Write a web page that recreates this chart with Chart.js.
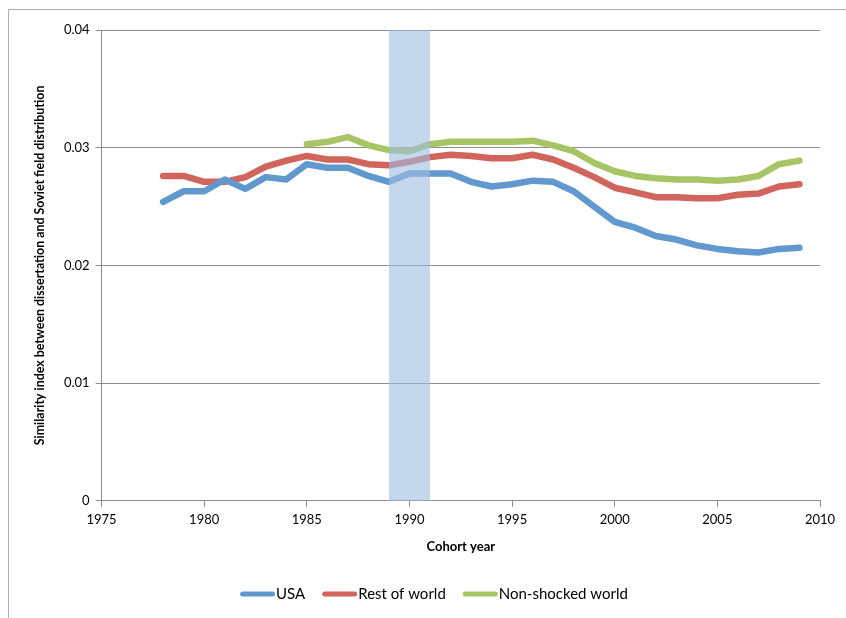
<!DOCTYPE html>
<html><head><meta charset="utf-8">
<script src="https://cdn.jsdelivr.net/npm/chart.js@4/dist/chart.umd.min.js"></script>
<style>html,body{margin:0;padding:0;background:#fff}#wrap{width:846px;height:618px;position:relative}</style>
</head><body><div id="wrap"><canvas id="c" width="846" height="618"></canvas></div>
<script>
const years = [1978,1979,1980,1981,1982,1983,1984,1985,1986,1987,1988,1989,1990,1991,1992,1993,1994,1995,1996,1997,1998,1999,2000,2001,2002,2003,2004,2005,2006,2007,2008,2009];
const usa = [0.0254,0.0263,0.0263,0.0273,0.0265,0.0275,0.0273,0.0286,0.0283,0.0283,0.0276,0.0271,0.0278,0.0278,0.0278,0.0271,0.0267,0.0269,0.0272,0.0271,0.0263,0.0250,0.0237,0.0232,0.0225,0.0222,0.0217,0.0214,0.0212,0.0211,0.0214,0.0215];
const restOfWorld = [0.0276,0.0276,0.0271,0.0271,0.0275,0.0284,0.0289,0.0293,0.0290,0.0290,0.0286,0.0285,0.0288,0.0292,0.0294,0.0293,0.0291,0.0291,0.0294,0.0290,0.0283,0.0275,0.0266,0.0262,0.0258,0.0258,0.0257,0.0257,0.0260,0.0261,0.0267,0.0269];
const nonShocked = [null,null,null,null,null,null,null,0.0303,0.0305,0.0309,0.0302,0.0298,0.0297,0.0303,0.0305,0.0305,0.0305,0.0305,0.0306,0.0302,0.0297,0.0287,0.0280,0.0276,0.0274,0.0273,0.0273,0.0272,0.0273,0.0276,0.0286,0.0289];
const seriesNames = ['USA','Rest of world','Non-shocked world'];
const shockBand = [1989, 1991];
const xTicks = [1975,1980,1985,1990,1995,2000,2005,2010];
const yTicks = [0,0.01,0.02,0.03,0.04];
const yTickLabels = ['0','0.01','0.02','0.03','0.04'];

const FONT = 'Lato, "Open Sans", sans-serif';
const colors = ['#6198CE','#D1645D','#A8C566'];

const toPts = arr => years.map((y,i)=>({x:y,y:arr[i]}));

const bandPlugin = {
  id:'band',
  afterDatasetsDraw(chart){
    const {ctx, chartArea, scales:{x}} = chart;
    const x0 = x.getPixelForValue(shockBand[0]), x1 = x.getPixelForValue(shockBand[1]);
    ctx.save();
    ctx.fillStyle = 'rgba(158,188,223,0.6)';
    ctx.fillRect(x0, chartArea.top, x1-x0, chartArea.bottom-chartArea.top);
    ctx.restore();
  }
};
const frameLegendPlugin = {
  id:'frameLegend',
  afterDraw(chart){
    const ctx = chart.ctx;
    ctx.save();
    ctx.strokeStyle = '#AFAFAF'; ctx.lineWidth = 1;
    ctx.beginPath(); ctx.moveTo(8.5, 618); ctx.lineTo(8.5, 9.5); ctx.lineTo(846, 9.5); ctx.stroke();
    // legend
    ctx.font = '15px ' + FONT;
    ctx.textBaseline = 'middle'; ctx.textAlign = 'left';
    const markerW = 35, gapText = 1, gapItem = 17, cy = 594;
    const items = chart.data.datasets.map(d=>({text:d.label, color:d.borderColor, w:ctx.measureText(d.label).width}));
    let total = items.reduce((s,it)=>s+markerW+gapText+it.w,0) + gapItem*(items.length-1);
    let x = 434 - total/2;
    items.forEach(it=>{
      ctx.strokeStyle = it.color; ctx.lineWidth = 5; ctx.lineCap = 'round';
      ctx.beginPath(); ctx.moveTo(x+2.5, cy); ctx.lineTo(x+markerW-2.5, cy); ctx.stroke();
      ctx.fillStyle = '#000';
      ctx.fillText(it.text, x+markerW+gapText, cy);
      x += markerW + gapText + it.w + gapItem;
    });
    ctx.restore();
  }
};

const ds = [usa, restOfWorld, nonShocked].map((arr,i)=>({
  label: seriesNames[i], data: toPts(arr), borderColor: colors[i], backgroundColor: colors[i],
  borderWidth: 6.5, pointRadius: 0, borderCapStyle:'round', borderJoinStyle:'round', tension:0, spanGaps:false
}));

new Chart(document.getElementById('c'), {
  type:'line',
  data:{datasets: ds},
  plugins:[bandPlugin, frameLegendPlugin],
  options:{
    responsive:false, animation:false, devicePixelRatio:1,
    layout:{padding:{left:29, right:26, top:30, bottom:59}},
    plugins:{ tooltip:{enabled:false}, legend:{display:false} },
    scales:{
      x:{type:'linear', min:1975, max:2010,
        afterBuildTicks(s){ s.ticks = xTicks.map(v=>({value:v})); },
        ticks:{font:{family:FONT,size:13}, color:'#000', padding:5, callback:v=>String(v), maxRotation:0},
        grid:{drawOnChartArea:false, drawTicks:true, tickLength:6, color:'#8C8C8C'},
        border:{color:'#8C8C8C', width:1},
        title:{display:true, text:'Cohort year', font:{family:FONT,size:13,weight:'bold'}, color:'#000', padding:{top:7, bottom:4}}
      },
      y:{min:0, max:0.04,
        afterBuildTicks(s){ s.ticks = yTicks.map(v=>({value:v})); },
        ticks:{font:{family:FONT,size:13}, color:'#000', padding:6, callback:(v,i)=>yTickLabels[i]},
        grid:{color:'#8C8C8C', tickLength:6, drawTicks:true},
        border:{color:'#8C8C8C', width:1},
        title:{display:true, text:'Similarity index between dissertation and Soviet field distribution', font:{family:FONT,size:12.4,weight:'bold'}, color:'#000', padding:{bottom:10}}
      }
    }
  }
});
</script></body></html>
